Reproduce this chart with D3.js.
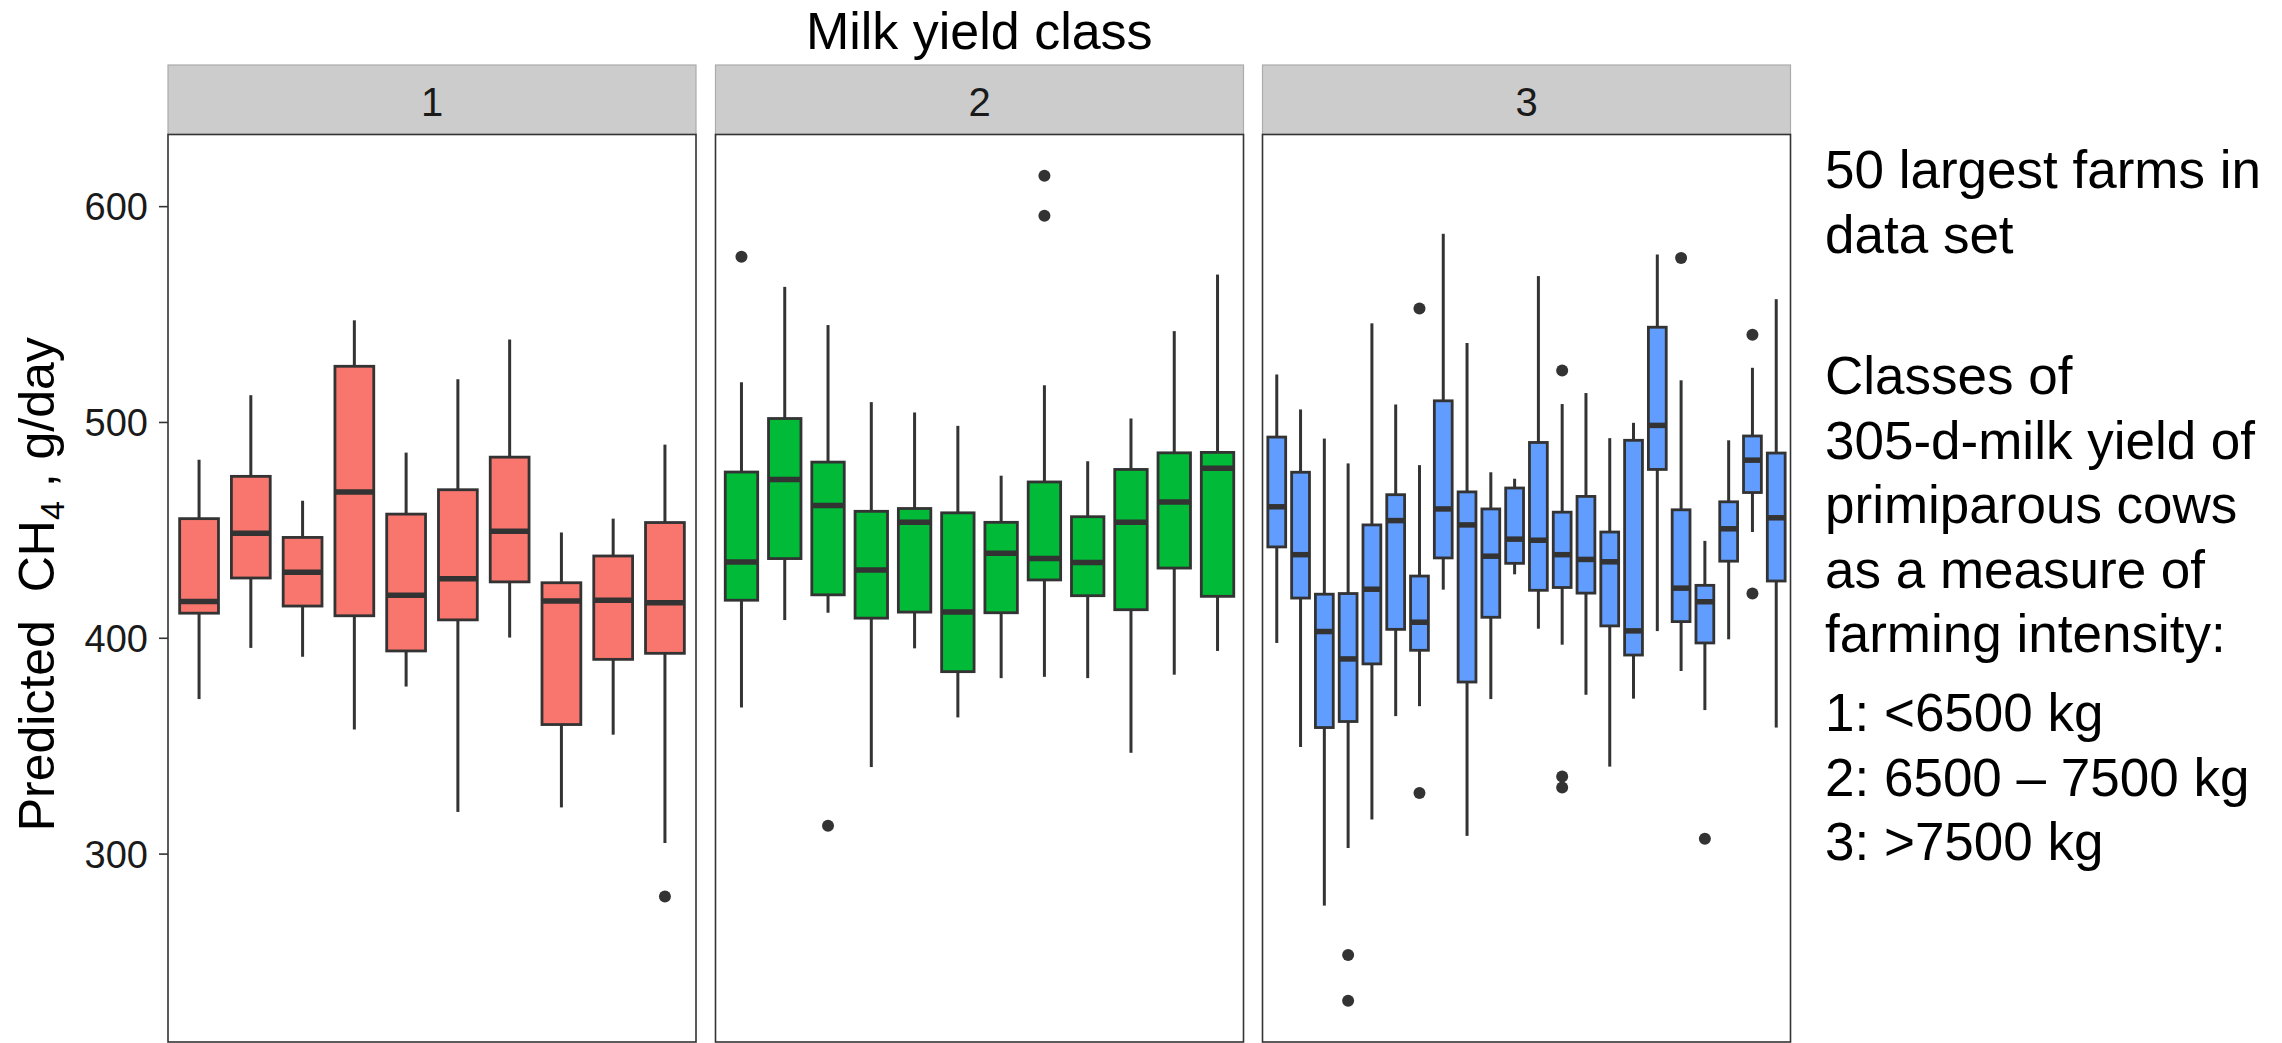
<!DOCTYPE html>
<html>
<head>
<meta charset="utf-8">
<script src="https://cdn.jsdelivr.net/npm/d3@7"></script>
<style>
  body { margin: 0; background: #fff; }
  svg { display: block; font-family: "Liberation Sans", Arial, sans-serif; }
</style>
</head>
<body>
<div id="chart"></div>
<script>
// boxplot stats per farm (g/day)
const classNames = ['1', '2', '3'];
const classColors = ['#F8766D', '#00BA38', '#619CFF'];

const class1Lower  = [371.6, 395.3, 391.2, 357.5, 377.4, 319.3, 400.1, 321.4, 355.1, 304.9];
const class1Q1     = [411.4, 427.7, 414.7, 410.2, 393.9, 408.3, 425.9, 359.8, 390.0, 392.8];
const class1Median = [416.8, 448.4, 430.4, 467.6, 419.7, 427.3, 449.4, 417.0, 417.4, 416.2];
const class1Q3     = [455.2, 474.8, 446.5, 525.8, 457.3, 468.6, 483.7, 425.5, 437.9, 453.4];
const class1Upper  = [482.5, 512.4, 463.5, 547.1, 485.8, 519.8, 538.2, 448.8, 455.2, 489.5];
const class1Outliers = [[10, 280.1]];

const class2Lower  = [367.7, 408.2, 411.6, 340.1, 395.1, 363.1, 381.3, 381.9, 381.3, 346.7, 382.9, 393.9];
const class2Q1     = [417.4, 436.7, 419.9, 409.1, 411.9, 384.3, 411.6, 426.8, 419.5, 413.0, 432.3, 419.2];
const class2Median = [435.1, 473.3, 461.3, 431.4, 453.5, 411.9, 439.2, 436.7, 434.9, 453.5, 462.9, 478.6];
const class2Q3     = [476.8, 501.6, 481.4, 458.6, 459.9, 457.9, 453.5, 472.2, 456.1, 478.0, 485.7, 485.9];
const class2Upper  = [518.4, 562.6, 544.9, 509.2, 504.4, 498.2, 475.1, 517.0, 481.8, 501.6, 542.1, 568.3];
const class2Outliers = [[1, 576.6], [3, 312.9], [8, 614.1], [8, 595.5]];

const class3Lower  = [397.6, 349.4, 275.9, 302.6, 315.8, 363.7, 368.3, 422.3, 308.2, 371.6, 429.4,
                      404.2, 396.8, 373.6, 340.3, 371.8, 403.1, 384.6, 366.5, 399.3, 449.0, 358.4];
const class3Q1     = [442.1, 418.4, 358.4, 361.2, 387.9, 403.9, 394.2, 437.0, 379.5, 409.5, 434.5,
                      422.0, 423.3, 420.7, 405.5, 392.0, 478.0, 407.5, 397.6, 435.5, 467.3, 426.3];
const class3Median = [460.7, 438.5, 402.9, 390.2, 422.5, 454.3, 407.2, 459.7, 452.3, 437.8, 445.7,
                      445.2, 438.5, 436.3, 435.2, 403.2, 498.4, 423.0, 416.7, 450.5, 482.3, 455.6];
const class3Q3     = [493.0, 476.7, 420.2, 420.5, 452.3, 466.3, 428.6, 509.8, 467.6, 459.7, 469.4,
                      490.5, 458.2, 465.5, 449.0, 491.5, 543.9, 459.3, 424.3, 463.0, 493.5, 485.6];
const class3Upper  = [522.0, 505.8, 492.3, 480.8, 545.7, 508.1, 480.0, 587.2, 536.6, 476.7, 473.7,
                      567.6, 508.3, 513.4, 492.5, 499.6, 577.6, 519.3, 444.9, 491.5, 525.1, 556.9];
const class3Outliers = [[4, 253.0], [4, 231.8], [7, 552.6], [7, 328.1], [13, 523.8], [13, 335.7],
                        [13, 330.6], [18, 576.0], [19, 306.9], [21, 540.4], [21, 420.5]];

const yTicks = [300, 400, 500, 600];
const yDomain = [212.7, 633.2];

const sideText = [
  ['50 largest farms in', 'data set'],
  ['Classes of', '305-d-milk yield of', 'primiparous cows', 'as a measure of', 'farming intensity:'],
  ['1: <6500 kg', '2: 6500 \u2013 7500 kg', '3: >7500 kg']
];

const panels = [
  { lower: class1Lower, q1: class1Q1, median: class1Median, q3: class1Q3, upper: class1Upper, out: class1Outliers },
  { lower: class2Lower, q1: class2Q1, median: class2Median, q3: class2Q3, upper: class2Upper, out: class2Outliers },
  { lower: class3Lower, q1: class3Q1, median: class3Median, q3: class3Q3, upper: class3Upper, out: class3Outliers }
];

const W = 2282, H = 1043;
const panelLeft = [168, 715.5, 1262.5];
const panelW = 528;
const panelTop = 134.5, panelBottom = 1042;
const stripTop = 65;
const ink = '#333333';

const svg = d3.select('#chart').append('svg').attr('width', W).attr('height', H);
svg.append('rect').attr('width', W).attr('height', H).attr('fill', '#fff');

const y = d3.scaleLinear().domain(yDomain).range([panelBottom, panelTop]);

panels.forEach((p, k) => {
  const x0 = panelLeft[k];
  const farms = p.median.map((d, i) => i + 1);
  // discrete axis like ggplot: 0.6 step of expansion on each side
  const x = d3.scalePoint().domain(farms).range([x0, x0 + panelW]).padding(0.6);
  const bw = x.step() * 0.75;

  const g = svg.append('g');

  // strip
  g.append('rect')
    .attr('x', x0).attr('y', stripTop)
    .attr('width', panelW).attr('height', panelTop - stripTop)
    .attr('fill', '#CCCCCC').attr('stroke', '#ABABAB').attr('stroke-width', 1.2);
  g.append('text')
    .attr('x', x0 + panelW / 2).attr('y', 116)
    .attr('text-anchor', 'middle')
    .attr('font-size', 40).attr('fill', '#1a1a1a')
    .text(classNames[k]);

  // panel background
  g.append('rect')
    .attr('x', x0).attr('y', panelTop)
    .attr('width', panelW).attr('height', panelBottom - panelTop)
    .attr('fill', '#fff');

  const boxes = g.selectAll('g.box').data(farms).enter().append('g').attr('class', 'box');

  boxes.append('line')
    .attr('x1', d => x(d)).attr('x2', d => x(d))
    .attr('y1', (d, i) => y(p.upper[i])).attr('y2', (d, i) => y(p.q3[i]))
    .attr('stroke', ink).attr('stroke-width', 3);
  boxes.append('line')
    .attr('x1', d => x(d)).attr('x2', d => x(d))
    .attr('y1', (d, i) => y(p.q1[i])).attr('y2', (d, i) => y(p.lower[i]))
    .attr('stroke', ink).attr('stroke-width', 3);

  boxes.append('rect')
    .attr('x', d => x(d) - bw / 2)
    .attr('y', (d, i) => y(p.q3[i]))
    .attr('width', bw)
    .attr('height', (d, i) => y(p.q1[i]) - y(p.q3[i]))
    .attr('fill', classColors[k])
    .attr('stroke', ink).attr('stroke-width', 2.8);

  boxes.append('line')
    .attr('x1', d => x(d) - bw / 2).attr('x2', d => x(d) + bw / 2)
    .attr('y1', (d, i) => y(p.median[i])).attr('y2', (d, i) => y(p.median[i]))
    .attr('stroke', ink).attr('stroke-width', 5.5);

  g.selectAll('circle').data(p.out).enter().append('circle')
    .attr('cx', d => x(d[0]))
    .attr('cy', d => y(d[1]))
    .attr('r', 6)
    .attr('fill', ink);

  // panel border on top
  g.append('rect')
    .attr('x', x0).attr('y', panelTop)
    .attr('width', panelW).attr('height', panelBottom - panelTop)
    .attr('fill', 'none').attr('stroke', ink).attr('stroke-width', 1.6);
});

// y axis
const yAxis = d3.axisLeft(y).tickValues(yTicks).tickSize(9).tickPadding(11);
const ax = svg.append('g')
  .attr('transform', `translate(${panelLeft[0]},0)`)
  .call(yAxis);
ax.select('.domain').remove();
ax.selectAll('.tick line').attr('stroke', ink).attr('stroke-width', 1.6);
ax.selectAll('.tick text')
  .attr('font-size', 38)
  .attr('font-family', '"Liberation Sans", Arial, sans-serif')
  .attr('fill', '#1a1a1a')
  .attr('dy', '0.36em');

// y title
const yt = svg.append('text')
  .attr('transform', `translate(54,${(panelTop + panelBottom) / 2 - 4}) rotate(-90)`)
  .attr('text-anchor', 'middle')
  .attr('font-size', 50)
  .attr('fill', '#000')
  .style('white-space', 'pre');
yt.append('tspan').text('Predicted  CH');
yt.append('tspan').attr('font-size', 34).attr('dy', 10).text('4');
yt.append('tspan').attr('dy', -10).text(' , g/day');

// facet title
svg.append('text')
  .attr('x', (panelLeft[0] + panelLeft[2] + panelW) / 2)
  .attr('y', 49)
  .attr('text-anchor', 'middle')
  .attr('font-size', 52)
  .attr('fill', '#000')
  .text('Milk yield class');

// side notes
const blockTop = [188, 394, 731];
const lineH = 64.5;
sideText.forEach((block, b) => {
  block.forEach((line, j) => {
    svg.append('text')
      .attr('x', 1825)
      .attr('y', blockTop[b] + j * lineH)
      .attr('font-size', 53)
      .attr('fill', '#000')
      .text(line);
  });
});
</script>
</body>
</html>
